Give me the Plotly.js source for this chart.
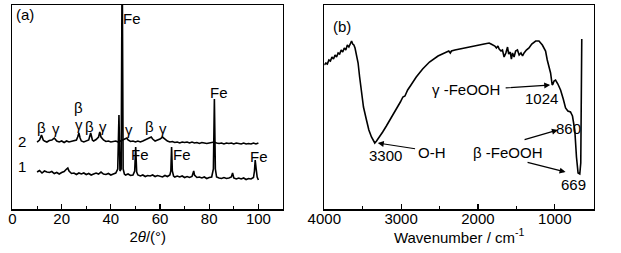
<!DOCTYPE html>
<html>
<head>
<meta charset="utf-8">
<script src="https://cdn.plot.ly/plotly-3.0.1.min.js"></script>
<style>html,body{margin:0;padding:0;background:#fff;}#chart{width:621px;height:253px;}</style>
</head>
<body>
<div id="chart"></div>
<script>
// ---- Panel (a): XRD ----
const xrdAngle1 = [10,11,12,13,14,15,16,17,18,19,20,21,22,22.5,23,24,25,26,27,28,29,30,31,32,33,34,35,36,37,38,39,40,41,42,42.8,43.3,43.7,44.2,44.6,45.0,45.5,46,47,48,49,49.7,50.1,50.5,51,52,53,54,55,56,57,58,59,60,61,62,63,64,64.4,64.7,65.0,65.5,66,67,68,69,70,71,72,73,73.4,73.7,74.0,75,76,77,78,79,80,81,81.7,82.1,82.5,83,84,85,86,87,88,89,89.5,90,91,92,93,94,95,96,97,98,98.4,98.7,99.1,99.5,100];
const xrdCurve1 = [37,38.5,36,38,37,36.5,37.5,35.5,36.5,35,36.5,37.5,40,41,38,35.5,36,34.5,36,35,36,34.5,35.5,34,35,36,35,37,35,34.5,35.5,34,35,36,40,94,38,40,260,40,35,34,35,33.5,34,38,62,37,34,33,34,32.5,33.5,33,34,32.5,33.5,33,32,33.5,32.5,34,38,62,38,33,32,33,32,33,31.5,32.5,31.5,32.5,35,38,34,31.5,32,31,32,30.5,31.5,32,40,110,40,32,31,30.5,31.5,30.5,31,32,36,31,30,31,30,31,29.5,30.5,30,31.5,38,49,40,32,29];
const xrdAngle2 = [10,11,11.8,12.5,13,14,15,16,17,18,19,20,21,22,23,24,25,26,26.5,27,27.5,28,29,30,31,31.8,32.5,33,34,35,35.5,36,37,38,39,40,41,42,43,44,45,46,46.5,47,48,49,50,51,52,53,54,55,56,56.4,57,58,59,60,61,62,63,64,65,66,67,68,69,70,71,72,73,74,75,76,77,78,79,80,81,82,83,84,85,86,87,88,89,90,91,92,93,94,95,96,97,98,99,100];
const xrdCurve2 = [67,69,74,69,68,67,68.5,69,71,68,67,68,66.5,68,67,67.5,68,69,72,76,71,68,67,68,69,76,69,68,69.5,72,77,72,69,67.5,68,67,67.5,68,67,68,69,70,71,69,67.5,68,67,68,67,68,69,70,71,72,70,68,69,70,72,70,68,67,67.5,66.5,67,66,67,66.5,67,66,67,66,66.5,65.5,66.5,66,65.5,66,66.5,67,66,65.5,66,65,66,65.5,66,65,66,65.5,65,66,65,65.5,65,66,65,66];

// ---- Panel (b): FTIR ----
const wavenumber = [4000,3980,3960,3940,3920,3900,3880,3860,3840,3820,3800,3780,3760,3740,3720,3700,3680,3660,3645,3630,3615,3600,3580,3560,3540,3516,3490,3451,3420,3386,3360,3343,3320,3279,3240,3192,3130,3062,3010,2977,2950,2933,2915,2880,2803,2720,2631,2520,2415,2380,2360,2345,2300,2155,2060,1983,1920,1854,1830,1800,1780,1760,1740,1724,1700,1681,1660,1637,1615,1600,1580,1565,1550,1530,1510,1486,1464,1440,1420,1400,1370,1336,1300,1249,1206,1162,1120,1098,1076,1055,1034,1024,1010,990,960,925,890,860,830,796,770,740,718,697,675,662,649];
const transmittance = [144,146,145,149,148,152,150,154,152,156,155,159,157,161,159,164,162,166,168,165,164,161,154,146,132,116,102,89,79,72,68,66,68,72,77,83,91,99,107,112,113,116,119,123,132,140,147,153,157,158,156,158,159,161,163,164,165,166,165,164,163,161,163,160,158,159,152,156,162,155,157,150,156,152,158,159,154,156,153,156,159,161,165,168,168,164,158,149,142,136,124,125,128,129,125,119,110,101,98,97,93,79,52,36,35,46,170];

// tick labels
const xrdTickVals = [0,20,40,60,80,100];
const irTickVals = [4000,3000,2000,1000];

const F = 'Liberation Sans, Arial, sans-serif';
const lineStyle = {color:'#000', width:1.6};

const traces = [
  {x:xrdAngle1, y:xrdCurve1, type:'scatter', mode:'lines', line:lineStyle, xaxis:'x', yaxis:'y', hoverinfo:'skip'},
  {x:xrdAngle2, y:xrdCurve2, type:'scatter', mode:'lines', line:lineStyle, xaxis:'x', yaxis:'y', hoverinfo:'skip'},
  {x:wavenumber, y:transmittance, type:'scatter', mode:'lines', line:lineStyle, xaxis:'x2', yaxis:'y2', hoverinfo:'skip'}
];

function txt(x, y, t, ax) {
  return {x:x, y:y, text:t, showarrow:false, xref:ax==='b'?'x2':'x', yref:ax==='b'?'y2':'y',
          font:{family:F, size:15, color:'#000'}, xanchor:'center', yanchor:'middle'};
}
function arr(x, y, axx, ayy, ax) {
  return {x:x, y:y, ax:axx, ay:ayy, text:'', showarrow:true, arrowhead:2, arrowsize:1, arrowwidth:1.2, arrowcolor:'#000',
          xref:ax==='b'?'x2':'x', yref:ax==='b'?'y2':'y', axref:ax==='b'?'x2':'x', ayref:ax==='b'?'y2':'y'};
}

const annotations = [
  txt(5.1,195,'(a)','a'),
  txt(48.5,191,'Fe','a'),
  txt(84.1,117,'Fe','a'),
  txt(11.6,82,'β','a'), txt(17.6,81,'γ','a'), txt(27,102,'β','a'), txt(27,85,'γ','a'),
  txt(31.4,83,'β','a'), txt(36.7,83,'γ','a'), txt(47.2,80,'γ','a'), txt(55.8,83,'β','a'), txt(61.4,81,'γ','a'),
  txt(3.9,68,'2','a'), txt(3.9,43,'1','a'),
  txt(51.7,55,'Fe','a'), txt(69.1,55,'Fe','a'), txt(100.4,53,'Fe','a'),
  txt(3771,183,'(b)','b'),
  txt(2152,120,'γ -FeOOH','b'),
  arr(1060,124,1659,121,'b'),
  txt(1167,111,'1024','b'),
  txt(818,81,'860','b'),
  arr(960,79,1413,69,'b'),
  txt(1621,57,'β -FeOOH','b'),
  arr(860,37,1374,47,'b'),
  txt(752,24,'669','b'),
  txt(3201,54,'3300','b'),
  txt(2592,57,'O-H','b'),
  arr(3304,66,2799,60,'b')
];

const axBase = {showline:true, mirror:true, linecolor:'#000', linewidth:1.5, showgrid:false, zeroline:false,
  ticks:'inside', ticklen:5, tickwidth:1.2, tickcolor:'#000', tickfont:{family:F, size:15, color:'#000'}, automargin:false};

const layout = {
  width:621, height:253, margin:{l:0, r:0, t:0, b:0}, paper_bgcolor:'#fff', plot_bgcolor:'#fff', showlegend:false,
  xaxis: Object.assign({}, axBase, {domain:[0.0201,0.4557], range:[0,110], tickvals:xrdTickVals, ticktext:xrdTickVals.map(String),
    ticklabelstandoff:-5,
    minor:{ticks:'inside', ticklen:3, tickwidth:1, tickcolor:'#000', dtick:10, tick0:0},
    title:{text:'2<i>θ</i>/(°)', font:{family:F, size:15, color:'#000'}, standoff:6}}),
  yaxis: Object.assign({}, axBase, {domain:[0.1739,0.9802], range:[0,204], ticks:'', showticklabels:false}),
  xaxis2: Object.assign({}, axBase, {anchor:'y2', domain:[0.5222,0.9565], range:[4000,490], tickvals:irTickVals, ticktext:irTickVals.map(String),
    ticklabelstandoff:-5,
    minor:{ticks:'inside', ticklen:3, tickwidth:1, tickcolor:'#000', dtick:500, tick0:0},
    title:{text:'Wavenumber / cm<sup>-1</sup>', font:{family:F, size:15, color:'#000'}, standoff:6}}),
  yaxis2: Object.assign({}, axBase, {anchor:'x2', domain:[0.1739,0.9802], range:[0,204], ticks:'', showticklabels:false}),
  annotations: annotations
};

Plotly.newPlot('chart', traces, layout, {staticPlot:true, displayModeBar:false});
</script>
</body>
</html>
